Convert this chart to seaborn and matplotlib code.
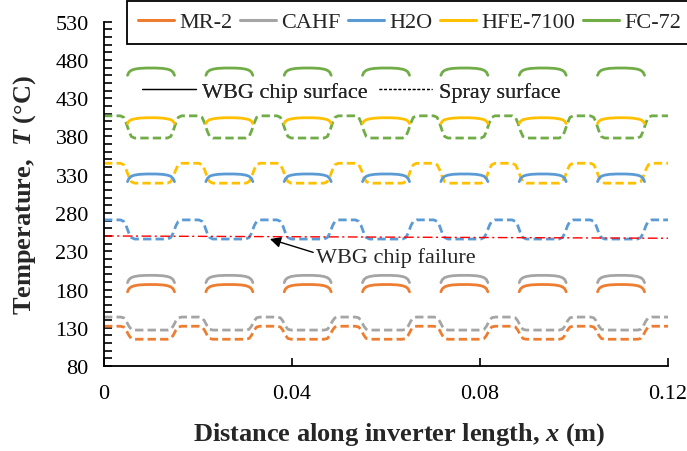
import matplotlib
matplotlib.use("Agg")
import matplotlib.pyplot as plt
from matplotlib.lines import Line2D
from matplotlib.ticker import MultipleLocator, FixedLocator
import pandas as pd
import seaborn as sns

# ---- data -------------------------------------------------------------
fluids = ["MR-2", "CAHF", "H2O", "HFE-7100", "FC-72"]

# leading edge of each of the seven WBG chips along the inverter (m)
chip_starts = [0.005, 0.02167, 0.03833, 0.055, 0.07167, 0.08833, 0.105]

# chip surface temperature across one chip (offset from chip leading edge, m)
chip_offsets = [0.0, 0.0003, 0.0008, 0.0015, 0.0025, 0.004,
                0.006, 0.0075, 0.0085, 0.0092, 0.0097, 0.01]
chip_T_mr2 = [177, 181, 183.5, 185, 186, 186.5, 186.5, 186, 185, 183.5, 181, 177]
chip_T_cahf = [189, 193, 195.5, 197, 198, 198.5, 198.5, 198, 197, 195.5, 193, 189]
chip_T_h2o = [321, 325, 328, 329.5, 330.5, 331, 331, 330.5, 329.5, 328, 325, 321]
chip_T_hfe = [397, 400, 402, 403, 404, 404.5, 404.5, 404, 403, 402, 400, 397]
chip_T_fc72 = [460, 464, 466.5, 468, 469, 469.5, 469.5, 469, 468, 466.5, 464, 460]

# spray surface temperature around each chip (offset from chip leading edge, m)
spray_offsets = [-0.0015, -0.0008, -0.0003, 0.0003, 0.0008, 0.0015,
                 0.0085, 0.0092, 0.0097, 0.0103, 0.0108, 0.0115]
spray_T_mr2 = [132, 131, 127, 120, 116, 115, 115, 116, 120, 127, 131, 132]
spray_T_cahf = [144, 143, 139, 132, 128, 127, 127, 128, 132, 139, 143, 144]
spray_T_h2o = [271, 269, 263.5, 253.5, 248, 246, 246, 248, 253.5, 263.5, 269, 271]
spray_T_hfe = [345, 343, 337, 327, 321, 319, 319, 321, 327, 337, 343, 345]
spray_T_fc72 = [407, 405, 398, 387, 380, 378, 378, 380, 387, 398, 405, 407]

# spray surface temperature at the two ends of the inverter
spray_end_x = [0.0, 0.12]

# WBG chip failure temperature line
failure_x = [0.0, 0.12]
failure_T = [250, 247]

x_ticks = [0, 0.04, 0.08, 0.12]
x_tick_labels = ["0", "0.04", "0.08", "0.12"]
y_ticks = [80, 130, 180, 230, 280, 330, 380, 430, 480, 530]

chip_T = dict(zip(fluids, [chip_T_mr2, chip_T_cahf, chip_T_h2o, chip_T_hfe, chip_T_fc72]))
spray_T = dict(zip(fluids, [spray_T_mr2, spray_T_cahf, spray_T_h2o, spray_T_hfe, spray_T_fc72]))

# ---- long-form tables -------------------------------------------------
chip_rows = []
for f in fluids:
    for i, s in enumerate(chip_starts):
        for off, t in zip(chip_offsets, chip_T[f]):
            chip_rows.append({"x": s + off, "T": t, "fluid": f, "chip": i})
chip_df = pd.DataFrame(chip_rows)

spray_rows = []
for f in fluids:
    spray_rows.append({"x": spray_end_x[0], "T": spray_T[f][0], "fluid": f})
    for s in chip_starts:
        for off, t in zip(spray_offsets, spray_T[f]):
            spray_rows.append({"x": s + off, "T": t, "fluid": f})
    spray_rows.append({"x": spray_end_x[1], "T": spray_T[f][-1], "fluid": f})
spray_df = pd.DataFrame(spray_rows)

# ---- style ------------------------------------------------------------
sns.set_style("ticks")
plt.rcParams.update({
    "font.family": ["Liberation Serif", "DejaVu Serif"],
    "font.size": 16,
    "mathtext.fontset": "custom",
    "mathtext.it": "Liberation Serif:italic:bold",
    "mathtext.rm": "Liberation Serif:bold",
    "mathtext.bf": "Liberation Serif:bold",
    "axes.edgecolor": "black",
    "axes.linewidth": 1.3,
})

palette = dict(zip(fluids, ["#ED7D31", "#A5A5A5", "#5B9BD5", "#FFC000", "#70AD47"]))
lw = 2.0
spray_dash = (0, (3.0, 1.5))

fig = plt.figure(figsize=(6.87, 4.52), dpi=100)
ax = fig.add_axes([0.1514, 0.188, 0.821, 0.7617])

sns.lineplot(data=spray_df, x="x", y="T", hue="fluid", hue_order=fluids,
             palette=palette, estimator=None, sort=False, lw=lw,
             linestyle=spray_dash, legend=False, ax=ax)
sns.lineplot(data=chip_df, x="x", y="T", hue="fluid", hue_order=fluids,
             units="chip", palette=palette, estimator=None, sort=False, lw=lw,
             solid_capstyle="round", legend=False, ax=ax)
sns.lineplot(x=failure_x, y=failure_T, color="#FF0000", lw=1.0,
             linestyle=(0, (7, 2.5, 1.5, 2.5)), ax=ax)

ax.set_xlim(0, 0.12)
ax.set_ylim(80, 530)
ax.xaxis.set_major_locator(FixedLocator(x_ticks))
ax.set_xticklabels(x_tick_labels)
ax.yaxis.set_major_locator(FixedLocator(y_ticks))
ax.yaxis.set_minor_locator(MultipleLocator(10))
ax.tick_params(axis="both", which="both", direction="in", length=5.5,
               width=1.2, color="black", labelsize=16, labelcolor="black")
ax.tick_params(axis="x", pad=13)
ax.tick_params(axis="y", pad=11)
sns.despine(ax=ax)

ax.set_xlabel(r"Distance along inverter length, $x$ (m)", fontsize=19,
              fontweight="bold")
ax.set_ylabel(r"Temperature,  $T$ (°C)", fontsize=19, fontweight="bold")
ax.xaxis.set_label_coords(0.523, -0.158)
ax.yaxis.set_label_coords(-0.117, 0.5)

# annotation for the failure threshold
ax.annotate("WBG chip failure", xy=(0.0353, 246), xytext=(0.0452, 222),
            fontsize=16, ha="left", va="center",
            arrowprops=dict(arrowstyle="-|>", color="black", lw=1.0,
                            mutation_scale=16, shrinkA=0, shrinkB=0,
                            relpos=(0.0, 0.7)))

# line-style key
style_handles = [Line2D([], [], color="black", lw=0.9),
                 Line2D([], [], color="black", lw=0.9, linestyle=(0, (2.2, 1.6)))]
style_leg = ax.legend(style_handles, ["WBG chip surface", "Spray surface"], ncol=2,
                      loc="center left", bbox_to_anchor=(0.068, 0.796),
                      frameon=False, fontsize=16, handlelength=2.4,
                      handletextpad=0.3, columnspacing=0.5,
                      borderaxespad=0, borderpad=0)
ax.add_artist(style_leg)

# fluid key
fluid_handles = [Line2D([], [], color=palette[f], lw=2.2) for f in fluids]
fig.legend(fluid_handles, fluids, ncol=5, loc="upper left",
           bbox_to_anchor=(0.185, 0.996), fontsize=16, frameon=True,
           fancybox=False, edgecolor="black", framealpha=1,
           handlelength=1.6, handletextpad=0.25, columnspacing=0.35,
           borderpad=0.5, borderaxespad=0).get_frame().set_linewidth(1.3)

fig.savefig("out.png", dpi=100, facecolor="white")
